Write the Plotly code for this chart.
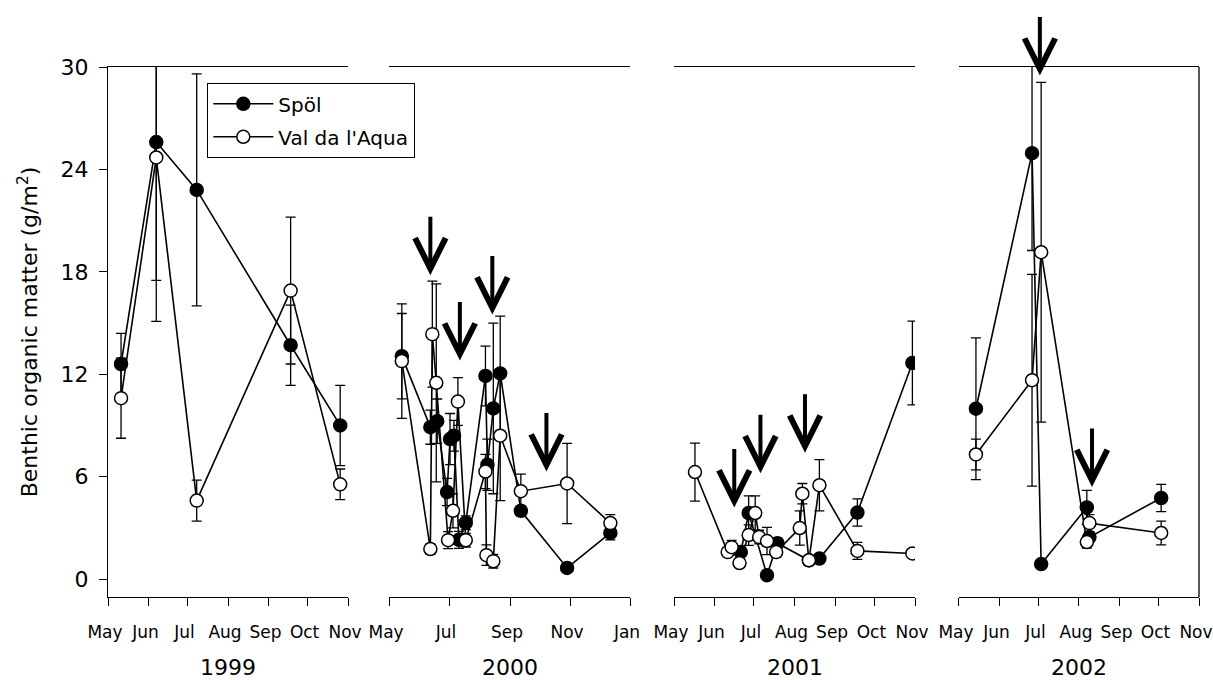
import plotly.graph_objects as go

# ---------------- data ----------------
years = ["1999", "2000", "2001", "2002"]

# 1999
spol_1999_dates = ["1999-05-11", "1999-06-07", "1999-07-08", "1999-09-18", "1999-10-26"]
spol_1999_vals = [12.6, 25.6, 22.8, 13.7, 9.0]
spol_1999_err = [1.8, 8.1, 6.8, 2.35, 2.35]
val_1999_dates = ["1999-05-11", "1999-06-07", "1999-07-08", "1999-09-18", "1999-10-26"]
val_1999_vals = [10.6, 24.7, 4.6, 16.9, 5.55]
val_1999_err = [2.35, 9.6, 1.2, 4.3, 0.9]

# 2000
spol_2000_dates = ["2000-05-14", "2000-06-12", "2000-06-19", "2000-06-29", "2000-07-02",
                   "2000-07-06", "2000-07-11", "2000-07-18", "2000-08-07", "2000-08-09",
                   "2000-08-15", "2000-08-22", "2000-09-12", "2000-10-29", "2000-12-12"]
spol_2000_vals = [13.06, 8.9, 9.25, 5.1, 8.2, 8.4, 2.3, 3.3, 11.9, 6.7, 10.0, 12.05, 4.0, 0.65, 2.7]
spol_2000_err = [2.5, 1.0, 1.3, 0.8, 1.5, 0.9, 0.5, 0.4, 1.75, 1.5, 5.0, 3.35, 0.3, 0.1, 0.4]
val_2000_dates = ["2000-05-14", "2000-06-12", "2000-06-14", "2000-06-18", "2000-06-30",
                  "2000-07-05", "2000-07-10", "2000-07-18", "2000-08-07", "2000-08-08",
                  "2000-08-15", "2000-08-22", "2000-09-12", "2000-10-29", "2000-12-12"]
val_2000_vals = [12.77, 1.76, 14.35, 11.5, 2.28, 4.0, 10.4, 2.28, 6.3, 1.4, 1.05, 8.4, 5.15, 5.6, 3.28]
val_2000_err = [3.35, 0.3, 3.1, 5.8, 0.5, 1.0, 1.4, 0.4, 1.0, 0.6, 0.4, 3.8, 1.0, 2.35, 0.5]

# 2001
spol_2001_dates = ["2001-06-21", "2001-06-27", "2001-07-11", "2001-07-19",
                   "2001-08-12", "2001-08-20", "2001-09-18", "2001-10-30"]
spol_2001_vals = [1.58, 3.87, 0.23, 2.1, 1.1, 1.2, 3.9, 12.66]
spol_2001_err = [0.2, 1.0, 0.1, 0.3, 0.2, 0.2, 0.8, 2.45]
val_2001_dates = ["2001-05-17", "2001-06-11", "2001-06-14", "2001-06-20", "2001-06-27",
                  "2001-07-02", "2001-07-05", "2001-07-11", "2001-07-18", "2001-08-05",
                  "2001-08-07", "2001-08-12", "2001-08-20", "2001-09-18", "2001-10-30"]
val_2001_vals = [6.27, 1.58, 1.87, 0.94, 2.58, 3.87, 2.46, 2.23, 1.58, 2.99, 5.0, 1.1, 5.5, 1.65, 1.5]
val_2001_err = [1.7, 0.2, 0.4, 0.2, 0.6, 1.0, 0.4, 0.8, 0.3, 1.0, 0.6, 0.2, 1.5, 0.5, 0.1]

# 2002
spol_2002_dates = ["2002-05-14", "2002-06-26", "2002-07-03", "2002-08-07", "2002-08-09", "2002-10-03"]
spol_2002_vals = [9.98, 24.95, 0.88, 4.2, 2.46, 4.75]
spol_2002_err = [4.15, 5.7, 0.2, 1.0, 0.3, 0.8]
val_2002_dates = ["2002-05-14", "2002-06-26", "2002-07-03", "2002-08-07", "2002-08-09", "2002-10-03"]
val_2002_vals = [7.3, 11.65, 19.15, 2.17, 3.28, 2.7]
val_2002_err = [0.9, 6.2, 9.95, 0.35, 0.5, 0.7]

# experimental flood arrows (date, tip value)
flood_dates = [[], ["2000-06-12", "2000-07-12", "2000-08-14", "2000-10-08"],
               ["2001-06-16", "2001-07-06", "2001-08-09"], ["2002-07-02", "2002-08-11"]]
flood_tips = [[], [17.8, 12.8, 15.5, 6.3], [4.2, 6.2, 7.4], [29.5, 5.4]]

x_ranges = [["1999-05-01", "1999-11-01"], ["2000-05-01", "2001-01-01"],
            ["2001-05-01", "2001-11-01"], ["2002-05-01", "2002-11-01"]]
x_dticks = ["M1", "M2", "M1", "M1"]
y_ticks = [0, 6, 12, 18, 24, 30]

# ---------------- figure ----------------
FONT = "DejaVu Sans"
panels = [
    (spol_1999_dates, spol_1999_vals, spol_1999_err, val_1999_dates, val_1999_vals, val_1999_err),
    (spol_2000_dates, spol_2000_vals, spol_2000_err, val_2000_dates, val_2000_vals, val_2000_err),
    (spol_2001_dates, spol_2001_vals, spol_2001_err, val_2001_dates, val_2001_vals, val_2001_err),
    (spol_2002_dates, spol_2002_vals, spol_2002_err, val_2002_dates, val_2002_vals, val_2002_err),
]
x_domains = [[0.0, 0.22], [0.2576, 0.4785], [0.5188, 0.7397], [0.78, 1.0]]

fig = go.Figure()
for i, (sd, sv, se, vd, vv, ve) in enumerate(panels):
    xa = "x" if i == 0 else f"x{i+1}"
    fig.add_trace(go.Scatter(
        x=sd, y=sv, xaxis=xa, yaxis="y", mode="lines+markers", name="Spöl",
        legendgroup="spol", showlegend=(i == 0),
        line=dict(color="black", width=1.6),
        marker=dict(size=13, color="black", line=dict(color="black", width=1.5)),
        error_y=dict(type="data", array=se, color="black", thickness=1.3, width=5),
    ))
    fig.add_trace(go.Scatter(
        x=vd, y=vv, xaxis=xa, yaxis="y", mode="lines+markers", name="Val da l'Aqua",
        legendgroup="val", showlegend=(i == 0),
        line=dict(color="black", width=1.6),
        marker=dict(size=13, color="white", line=dict(color="black", width=1.5)),
        error_y=dict(type="data", array=ve, color="black", thickness=1.3, width=5),
    ))

layout = dict(
    width=1213, height=680,
    margin=dict(l=108, r=14, t=67, b=83, autoexpand=False),
    paper_bgcolor="white", plot_bgcolor="white",
    font=dict(family=FONT, color="black"),
    showlegend=True,
    legend=dict(x=(207 - 108) / 1091, y=(597 - 83) / 530, xanchor="left", yanchor="top",
                bordercolor="black", borderwidth=1.3, bgcolor="white",
                font=dict(family=FONT, size=20, color="black"),
                tracegroupgap=4, itemwidth=60),
    yaxis=dict(domain=[0, 1], range=[-1.05, 30], anchor="x", tickvals=y_ticks,
               automargin=False,
               ticks="outside", ticklen=8, tickwidth=1.3, tickcolor="black",
               showline=True, linecolor="black", linewidth=1.3, showgrid=False, zeroline=False,
               tickfont=dict(family=FONT, size=22, color="black"), ticklabelstandoff=6,
               title=dict(text="Benthic organic matter (g/m<sup>2</sup>)",
                          font=dict(family=FONT, size=22, color="black"), standoff=16)),
)
annotations = []
shapes = []
for i in range(4):
    key = "xaxis" if i == 0 else f"xaxis{i+1}"
    xa = "x" if i == 0 else f"x{i+1}"
    layout[key] = dict(domain=x_domains[i], range=x_ranges[i], type="date", anchor="y",
                       automargin=False, ticklabeloverflow="allow", ticklabelshift=-3,
                       tick0=x_ranges[i][0], dtick=x_dticks[i], tickformat="%b",
                       ticks="outside", ticklen=8, tickwidth=1.3, tickcolor="black",
                       showline=True, linecolor="black", linewidth=1.3, mirror=True,
                       showgrid=False, zeroline=False, ticklabelstandoff=11,
                       tickfont=dict(family=FONT, size=17, color="black"))
    annotations.append(dict(text=years[i], xref=f"{xa} domain", x=0.5, yref="paper",
                            y=-(667 - 597) / 530, yanchor="middle", xanchor="center",
                            showarrow=False, font=dict(family=FONT, size=22, color="black")))
    for d, t in zip(flood_dates[i], flood_tips[i]):
        annotations.append(dict(text="", x=d, y=t, xref=xa, yref="y", ax=0, ay=-60,
                                showarrow=True, arrowhead=5, arrowsize=1.5, arrowwidth=4,
                                arrowcolor="black", standoff=0))
shapes.append(dict(type="line", xref="x4 domain", x0=1, x1=1, yref="paper", y0=0, y1=1,
                   line=dict(color="black", width=1.3)))
layout["annotations"] = annotations
layout["shapes"] = shapes
fig.update_layout(**layout)

fig.write_html("out.html")
